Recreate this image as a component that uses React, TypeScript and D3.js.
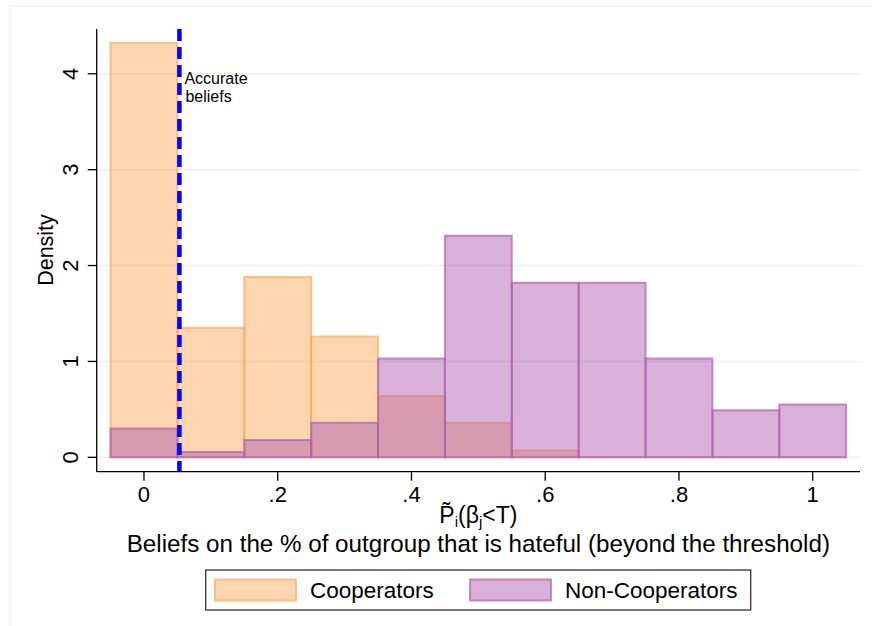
import * as d3 from 'd3'
import React, { useEffect, useRef } from 'react'

// Histogram bins (width .1, centered on 0, .1, ..., 1)
const binStarts = [-0.05, 0.05, 0.15, 0.25, 0.35, 0.45, 0.55, 0.65, 0.75, 0.85, 0.95]
const coopDensity = [4.32, 1.35, 1.88, 1.26, 0.64, 0.36, 0.07, 0, 0, 0, 0]
const nonCoopDensity = [0.3, 0.055, 0.18, 0.36, 1.03, 2.31, 1.82, 1.82, 1.03, 0.49, 0.55]
const binWidth = 0.1

const yTicks = [0, 1, 2, 3, 4]
const xTicks = [0, 0.2, 0.4, 0.6, 0.8, 1]
const xTickLabels = ['0', '.2', '.4', '.6', '.8', '1']

const accurateBelief = 0.053
const noteLines = ['Accurate', 'beliefs']

const seriesNames = ['Cooperators', 'Non-Cooperators']
const seriesColors = ['#fbab5d', '#b161b1']

const App = () => {
    const myRef = useRef<SVGSVGElement>(null)

    const w = 872
    const h = 626
    const font = 'Helvetica, Arial, "Liberation Sans", sans-serif'

    useEffect(() => {
        const svg = d3.select(myRef.current)
        svg.selectAll('*').remove()

        const x = d3.scaleLinear().domain([-0.0707, 1.0707]).range([96.7, 860])
        const y = d3.scaleLinear().domain([-0.15, 4.467]).range([471.7, 29])

        // Faint graph region outline
        svg.append('path')
            .attr('d', `M10,${h} V6 H${w}`)
            .attr('fill', 'none')
            .attr('stroke', '#e4e8ea')
            .attr('stroke-width', 1)

        // Gridlines
        svg.append('g')
            .selectAll('line')
            .data(yTicks)
            .enter()
            .append('line')
            .attr('x1', x.range()[0])
            .attr('x2', x.range()[1])
            .attr('y1', (d) => y(d))
            .attr('y2', (d) => y(d))
            .attr('stroke', '#e6eff1')
            .attr('stroke-width', 1.5)

        // Bars
        const barPath = (d: number, i: number) => {
            const x0 = x(binStarts[i])
            const x1 = x(binStarts[i] + binWidth)
            const y0 = y(0)
            const y1 = y(d)
            return `M${x0},${y0} V${y1} H${x1} V${y0} Z`
        }
        const series = [coopDensity, nonCoopDensity]
        series.forEach((vals, s) => {
            svg.append('g')
                .selectAll('path')
                .data(vals)
                .enter()
                .append('path')
                .attr('d', barPath)
                .attr('fill', seriesColors[s])
                .attr('fill-opacity', 0.5)
                .attr('stroke', seriesColors[s])
                .attr('stroke-opacity', 0.7)
                .attr('stroke-width', 2)
        })

        // Accurate beliefs line
        svg.append('line')
            .attr('x1', x(accurateBelief))
            .attr('x2', x(accurateBelief))
            .attr('y1', y.range()[1])
            .attr('y2', y.range()[0])
            .attr('stroke', '#0000ff')
            .attr('stroke-width', 4.5)
            .attr('stroke-dasharray', '12 6')

        svg.append('g')
            .selectAll('text')
            .data(noteLines)
            .enter()
            .append('text')
            .attr('x', (d, i) => x(accurateBelief) + 5 + i)
            .attr('y', (d, i) => 84 + i * 18)
            .attr('font-family', font)
            .attr('font-size', 16)
            .text((d) => d)

        // Y axis
        const yAxis = svg.append('g')
        yAxis.append('line')
            .attr('x1', x.range()[0]).attr('x2', x.range()[0])
            .attr('y1', y.range()[1]).attr('y2', y.range()[0])
            .attr('stroke', '#000').attr('stroke-width', 1.3)
        yAxis.selectAll('.tick')
            .data(yTicks)
            .enter()
            .append('line')
            .attr('x1', x.range()[0] - 9).attr('x2', x.range()[0])
            .attr('y1', (d) => y(d)).attr('y2', (d) => y(d))
            .attr('stroke', '#000').attr('stroke-width', 1.3)
        yAxis.selectAll('text')
            .data(yTicks)
            .enter()
            .append('text')
            .attr('transform', (d) => `translate(78,${y(d)}) rotate(-90)`)
            .attr('text-anchor', 'middle')
            .attr('font-family', font)
            .attr('font-size', 22)
            .text((d) => d)
        svg.append('text')
            .attr('transform', 'translate(53,250) rotate(-90)')
            .attr('text-anchor', 'middle')
            .attr('font-family', font)
            .attr('font-size', 21.5)
            .text('Density')

        // X axis
        const xAxis = svg.append('g')
        xAxis.append('line')
            .attr('x1', x.range()[0]).attr('x2', x.range()[1])
            .attr('y1', y.range()[0]).attr('y2', y.range()[0])
            .attr('stroke', '#000').attr('stroke-width', 1.3)
        xAxis.selectAll('.tick')
            .data(xTicks)
            .enter()
            .append('line')
            .attr('x1', (d) => x(d)).attr('x2', (d) => x(d))
            .attr('y1', y.range()[0]).attr('y2', y.range()[0] + 9)
            .attr('stroke', '#000').attr('stroke-width', 1.3)
        xAxis.selectAll('text')
            .data(xTicks)
            .enter()
            .append('text')
            .attr('x', (d) => x(d))
            .attr('y', 502)
            .attr('text-anchor', 'middle')
            .attr('font-family', font)
            .attr('font-size', 22)
            .text((d, i) => xTickLabels[i])

        // X axis title (two lines)
        const cx = (x.range()[0] + x.range()[1]) / 2
        const t1 = svg.append('text')
            .attr('x', cx)
            .attr('y', 523)
            .attr('text-anchor', 'middle')
            .attr('font-family', font)
            .attr('font-size', 23)
        t1.append('tspan').text('P\u0303')
        t1.append('tspan').attr('font-size', 15).attr('dy', 4).text('i')
        t1.append('tspan').attr('dy', -4).text('(\u03b2')
        t1.append('tspan').attr('font-size', 15).attr('dy', 4).text('j')
        t1.append('tspan').attr('dy', -4).text('<T)')

        svg.append('text')
            .attr('x', cx)
            .attr('y', 552)
            .attr('text-anchor', 'middle')
            .attr('font-family', font)
            .attr('font-size', 24.2)
            .text('Beliefs on the % of outgroup that is hateful (beyond the threshold)')

        // Legend
        const legend = svg.append('g')
        legend.append('rect')
            .attr('x', 205.7).attr('y', 570)
            .attr('width', 545).attr('height', 40)
            .attr('fill', '#fff')
            .attr('stroke', '#333').attr('stroke-width', 1.3)
        const swatchX = [215, 470]
        const labelX = [310, 565]
        seriesNames.forEach((name, i) => {
            legend.append('rect')
                .attr('x', swatchX[i]).attr('y', 579.5)
                .attr('width', 81).attr('height', 21)
                .attr('fill', seriesColors[i]).attr('fill-opacity', 0.5)
                .attr('stroke', seriesColors[i]).attr('stroke-opacity', 0.7)
                .attr('stroke-width', 2)
            legend.append('text')
                .attr('x', labelX[i]).attr('y', 598)
                .attr('font-family', font)
                .attr('font-size', 22.5)
                .text(name)
        })
    }, [])

    return (
        <svg
            ref={myRef}
            width={w}
            height={h}
            style={{ position: 'absolute', left: 0, top: 0, background: '#fff' }}
        />
    )
}

export default App
